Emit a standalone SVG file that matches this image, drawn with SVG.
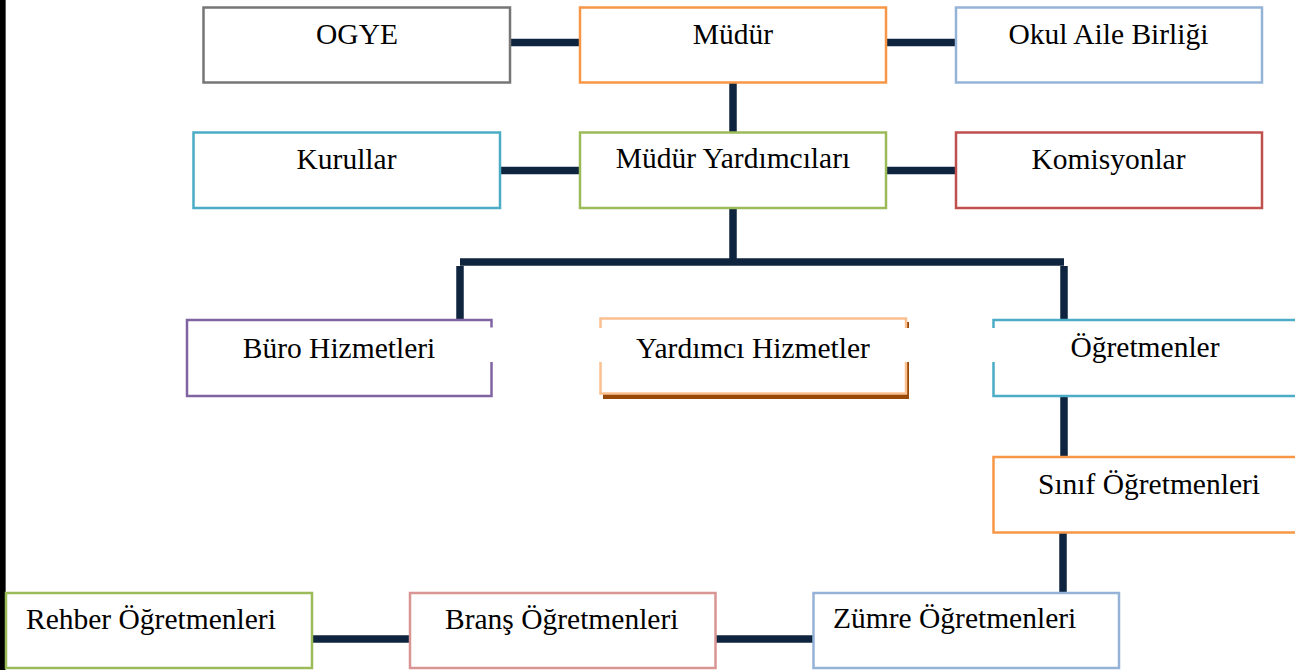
<svg xmlns="http://www.w3.org/2000/svg" width="1295" height="670" viewBox="0 0 1295 670">
  <style>
    .box { fill: #ffffff; stroke-width: 2.5; }
    .lbl { font-family: "Liberation Serif", "Times New Roman", serif; font-size: 29.5px; fill: #000000; }
    .mid { text-anchor: middle; }
    .conn { stroke: #0F243E; stroke-width: 7.5; fill: none; stroke-linecap: butt; }
    .gap { fill: #ffffff; }
  </style>
  <rect x="0" y="0" width="1295" height="670" fill="#ffffff"/>
  <rect x="0" y="0" width="5" height="670" fill="#000000"/>
  <line x1="5.5" y1="0" x2="5.5" y2="670" stroke="#5a5a5a" stroke-width="1"/>

  <g id="connectors">
    <line class="conn" x1="510" y1="42.5" x2="580" y2="42.5"/>
    <line class="conn" x1="886" y1="42.5" x2="955" y2="42.5"/>
    <line class="conn" x1="733" y1="82" x2="733" y2="133"/>
    <line class="conn" x1="500" y1="170.5" x2="580" y2="170.5"/>
    <line class="conn" x1="886" y1="170.5" x2="955" y2="170.5"/>
    <line class="conn" x1="733" y1="208" x2="733" y2="262"/>
    <line class="conn" x1="460" y1="262" x2="1064" y2="262"/>
    <line class="conn" x1="460" y1="266" x2="460" y2="320"/>
    <line class="conn" x1="1064" y1="266" x2="1064" y2="320"/>
    <line class="conn" x1="1064" y1="396" x2="1064" y2="457"/>
    <line class="conn" x1="1063" y1="532" x2="1063" y2="593"/>
    <line class="conn" x1="312" y1="639" x2="410" y2="639"/>
    <line class="conn" x1="716" y1="639" x2="813" y2="639"/>
  </g>

  <g id="ogye">
    <rect class="box" x="203.5" y="7.5" width="306.5" height="75" stroke="#767676"/>
    <text class="lbl mid" x="357" y="44">OGYE</text>
  </g>
  <g id="mudur">
    <rect class="box" x="580" y="7.5" width="306" height="75" stroke="#F79646"/>
    <text class="lbl mid" x="733" y="44">Müdür</text>
  </g>
  <g id="okul-aile-birligi">
    <rect class="box" x="956" y="7.5" width="306" height="75" stroke="#95B3D7"/>
    <text class="lbl mid" x="1108.5" y="44">Okul Aile Birliği</text>
  </g>

  <g id="kurullar">
    <rect class="box" x="193.5" y="132.5" width="306.5" height="75.5" stroke="#4BACC6"/>
    <text class="lbl mid" x="346.5" y="168.5">Kurullar</text>
  </g>
  <g id="mudur-yardimcilari">
    <rect class="box" x="580" y="132.5" width="306" height="75.5" stroke="#9BBB59"/>
    <text class="lbl mid" x="733" y="168">Müdür Yardımcıları</text>
  </g>
  <g id="komisyonlar">
    <rect class="box" x="956" y="132.5" width="306" height="75.5" stroke="#C0504D"/>
    <text class="lbl mid" x="1108.5" y="168.5">Komisyonlar</text>
  </g>

  <g id="buro-hizmetleri">
    <rect class="box" x="187" y="320" width="304.5" height="76" stroke="#8064A2"/>
    <rect class="gap" x="488" y="327.5" width="7" height="34.5"/>
    <text class="lbl mid" x="339" y="357.5">Büro Hizmetleri</text>
  </g>
  <g id="yardimci-hizmetler">
    <rect x="603" y="322" width="306" height="77" fill="#984807"/>
    <rect class="box" x="600.5" y="318.5" width="305.5" height="75" stroke="#FAC090"/>
    <rect class="gap" x="597" y="328" width="7" height="34"/>
    <rect class="gap" x="903" y="328" width="8" height="34"/>
    <text class="lbl mid" x="753" y="357.5">Yardımcı Hizmetler</text>
  </g>
  <g id="ogretmenler">
    <rect class="box" x="993.5" y="320" width="306" height="76" stroke="#4BACC6"/>
    <rect class="gap" x="990" y="328" width="7" height="34"/>
    <text class="lbl mid" x="1145" y="357">Öğretmenler</text>
  </g>
  <g id="sinif-ogretmenleri">
    <rect class="box" x="993.5" y="457" width="312" height="75.5" stroke="#F79646"/>
    <text class="lbl mid" x="1149" y="494">Sınıf Öğretmenleri</text>
  </g>

  <g id="rehber-ogretmenleri">
    <rect class="box" x="6" y="593" width="306" height="75" stroke="#9BBB59"/>
    <text class="lbl" x="26" y="629">Rehber Öğretmenleri</text>
  </g>
  <g id="brans-ogretmenleri">
    <rect class="box" x="410" y="593" width="305.5" height="75" stroke="#D99594"/>
    <text class="lbl" x="445" y="629">Branş Öğretmenleri</text>
  </g>
  <g id="zumre-ogretmenleri">
    <rect class="box" x="813.5" y="593" width="305.5" height="75" stroke="#95B3D7"/>
    <text class="lbl" x="833" y="628">Zümre Öğretmenleri</text>
  </g>
</svg>
